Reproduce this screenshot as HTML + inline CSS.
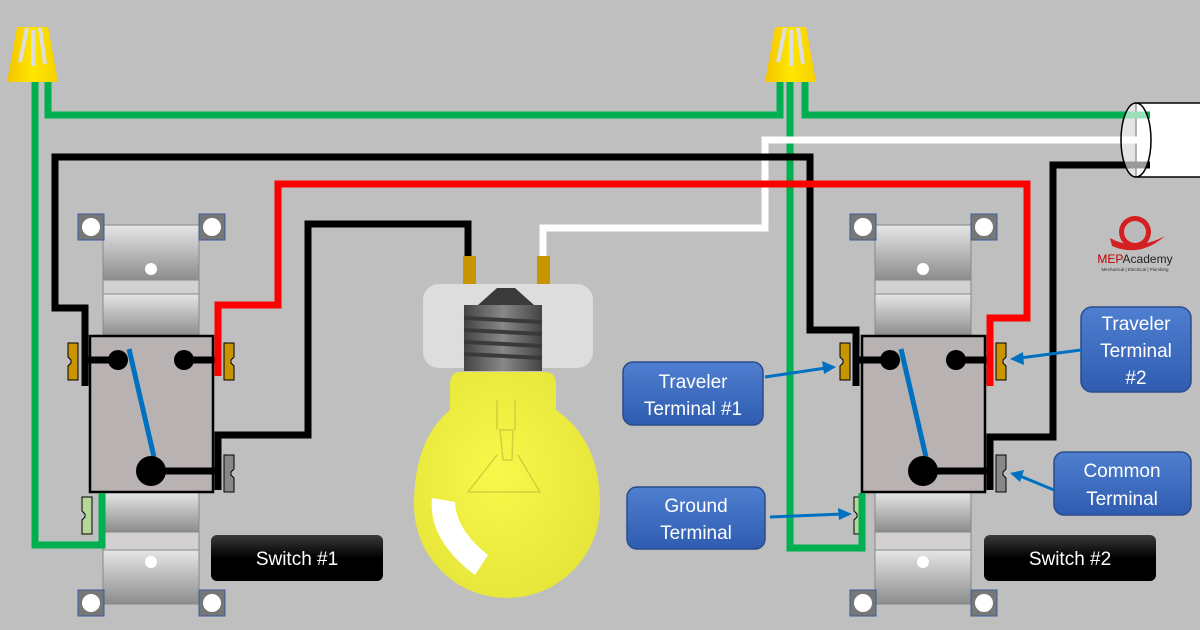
<!DOCTYPE html>
<html><head><meta charset="utf-8"><style>
html,body{margin:0;padding:0;background:#bfbfbf;}
svg{display:block}
text{font-family:"Liberation Sans",sans-serif}
</style></head><body>
<svg width="1200" height="630" viewBox="0 0 1200 630" xmlns="http://www.w3.org/2000/svg">
<defs>
<linearGradient id="strap" x1="0" y1="0" x2="0" y2="1"><stop offset="0" stop-color="#e6e6e6"/><stop offset="1" stop-color="#8c8c8c"/></linearGradient>
<linearGradient id="blk" x1="0" y1="0" x2="0" y2="1"><stop offset="0" stop-color="#3a3a3a"/><stop offset="0.5" stop-color="#000"/><stop offset="1" stop-color="#000"/></linearGradient>
<linearGradient id="blu" x1="0" y1="0" x2="0" y2="1"><stop offset="0" stop-color="#4f7fd0"/><stop offset="1" stop-color="#2f5cb0"/></linearGradient>
<linearGradient id="nut" x1="0" y1="0" x2="1" y2="0"><stop offset="0" stop-color="#f2c400"/><stop offset="0.5" stop-color="#ffe600"/><stop offset="1" stop-color="#f5d000"/></linearGradient>
<radialGradient id="bulb" cx="0.45" cy="0.45" r="0.6"><stop offset="0" stop-color="#f7f84a"/><stop offset="1" stop-color="#e6e53a"/></radialGradient>
<linearGradient id="base" x1="0" y1="0" x2="1" y2="0"><stop offset="0" stop-color="#444"/><stop offset="0.5" stop-color="#888"/><stop offset="1" stop-color="#444"/></linearGradient>
<g id="sw">
  <rect x="103" y="225" width="96" height="55" fill="url(#strap)" stroke="#888"/>
  <rect x="103" y="280" width="96" height="14" fill="#d2d0d0" stroke="#888"/>
  <rect x="103" y="294" width="96" height="42" fill="url(#strap)" stroke="#888"/>
  <rect x="103" y="492" width="96" height="40" fill="url(#strap)" stroke="#888"/>
  <rect x="103" y="532" width="96" height="18" fill="#d2d0d0" stroke="#888"/>
  <rect x="103" y="550" width="96" height="54" fill="url(#strap)" stroke="#888"/>
  <circle cx="151" cy="269" r="6" fill="#fff"/>
  <circle cx="151" cy="562" r="6" fill="#fff"/>
  <g fill="#777" stroke="#3e5a9e" stroke-width="1">
    <rect x="78" y="214" width="26" height="26"/><rect x="199" y="214" width="26" height="26"/>
    <rect x="78" y="590" width="26" height="26"/><rect x="199" y="590" width="26" height="26"/>
  </g>
  <g fill="#fff"><circle cx="91" cy="227" r="9"/><circle cx="212" cy="227" r="9"/><circle cx="91" cy="603" r="9"/><circle cx="212" cy="603" r="9"/></g>
  <rect x="90" y="336" width="123" height="156" fill="#b9b2b2" stroke="#000" stroke-width="2.5"/>
  <path d="M68 343h10v37h-10v-14l3-3v-3l-3-3z" fill="#c89400" stroke="#000"/>
  <path d="M224 343h10v14l-3 3v3l3 3v14h-10z" fill="#c89400" stroke="#000"/>
  <path d="M224 455h10v14l-3 3v3l3 3v14h-10z" fill="#888" stroke="#000"/>
  <path d="M82 497h10v37h-10v-14l3-3v-3l-3-3z" fill="#b5d89a" stroke="#000"/>
  <g stroke="#000" stroke-width="7"><line x1="86" y1="360" x2="118" y2="360"/><line x1="184" y1="360" x2="216" y2="360"/><line x1="151" y1="471" x2="216" y2="471"/></g>
  <circle cx="118" cy="360" r="10"/><circle cx="184" cy="360" r="10"/>
  <line x1="129" y1="349" x2="154" y2="457" stroke="#0070c0" stroke-width="5"/>
  <circle cx="151" cy="471" r="15"/>
</g>
</defs>
<rect width="1200" height="630" fill="#bfbfbf"/>
<use href="#sw"/>
<use href="#sw" transform="translate(772,0)"/>
<!-- cable -->
<rect x="1136" y="103" width="70" height="74" fill="#fff" stroke="#000" stroke-width="1.5"/>
<!-- wires -->
<g fill="none" stroke-linejoin="miter" stroke-width="7">
  <path d="M35 82V545H102V493" stroke="#00b050"/>
  <path d="M48 82V115H780V82" stroke="#00b050"/>
  <path d="M790 82V548H862V493" stroke="#00b050"/>
  <path d="M805 82V115H1150" stroke="#00b050"/>
  <path d="M1150 140H765V228H543V258" stroke="#fff"/>
  <path d="M85 386V308H55V157H810V330H856V386" stroke="#000"/>
  <path d="M218 376V305H278V184H1027V318H990V386" stroke="#f00"/>
  <path d="M218 490V435H308V224H468V258" stroke="#000"/>
  <path d="M1150 165H1053V437H990V490" stroke="#000"/>
</g>
<ellipse cx="1136" cy="140" rx="15" ry="37" fill="#fff" fill-opacity="0.6" stroke="#000" stroke-width="1.5"/>
<!-- wire nuts -->
<g>
  <path d="M17 27H48L58 82H7Z" fill="url(#nut)"/>
  <g stroke="#ddd" stroke-width="4"><line x1="27" y1="28" x2="20" y2="62"/><line x1="33" y1="30" x2="33" y2="66"/><line x1="40" y1="28" x2="45" y2="64"/></g>
  <path d="M775 27H806L816 82H765Z" fill="url(#nut)"/>
  <g stroke="#ddd" stroke-width="4"><line x1="785" y1="28" x2="778" y2="62"/><line x1="791" y1="30" x2="791" y2="66"/><line x1="798" y1="28" x2="803" y2="64"/></g>
</g>
<!-- bulb -->
<rect x="463" y="256" width="13" height="30" fill="#c89400"/>
<rect x="537" y="256" width="13" height="30" fill="#c89400"/>
<rect x="423" y="284" width="170" height="84" rx="16" fill="#ddd"/>
<path d="M478 305L497 288H515L534 305Z" fill="#3a3a3a"/>
<rect x="464" y="305" width="78" height="66" fill="url(#base)"/>
<g stroke="#3a3a3a" stroke-width="4"><line x1="464" y1="318" x2="542" y2="322"/><line x1="464" y1="330" x2="542" y2="334"/><line x1="464" y1="342" x2="542" y2="346"/><line x1="464" y1="354" x2="542" y2="358"/></g>
<path d="M460 372H545Q556 372 556 385V410Q600 440 600 505A93 93 0 0 1 414 505Q414 440 450 410V385Q450 372 460 372Z" fill="url(#bulb)"/>
<path d="M432 498Q428 540 475 575L488 555Q456 530 455 502Z" fill="#fff"/>
<g stroke="#c9c73a" stroke-width="1.5" fill="none" opacity="0.8"><path d="M497 400V430M515 400V430M500 430H513L512 460H503Z"/><path d="M497 455L468 492H540L518 455"/></g>
<!-- labels -->
<g>
  <rect x="211" y="535" width="172" height="46" rx="6" fill="url(#blk)"/>
  <text x="297" y="565" fill="#fff" font-size="19" text-anchor="middle">Switch #1</text>
  <rect x="984" y="535" width="172" height="46" rx="6" fill="url(#blk)"/>
  <text x="1070" y="565" fill="#fff" font-size="19" text-anchor="middle">Switch #2</text>
</g>
<g fill="url(#blu)" stroke="#2a4c8c" stroke-width="1.5">
  <rect x="623" y="362" width="140" height="63" rx="10"/>
  <rect x="627" y="487" width="138" height="62" rx="10"/>
  <rect x="1081" y="307" width="110" height="85" rx="11"/>
  <rect x="1054" y="452" width="137" height="63" rx="10"/>
</g>
<g fill="#fff" font-size="19" text-anchor="middle">
  <text x="693" y="388">Traveler</text><text x="693" y="415">Terminal #1</text>
  <text x="696" y="512">Ground</text><text x="696" y="539">Terminal</text>
  <text x="1136" y="330">Traveler</text><text x="1136" y="357">Terminal</text><text x="1136" y="384">#2</text>
  <text x="1122" y="477">Common</text><text x="1122" y="505">Terminal</text>
</g>
<g stroke="#0070c0" stroke-width="3" fill="none">
  <line x1="765" y1="377" x2="826" y2="368"/>
  <line x1="770" y1="517" x2="843" y2="514"/>
  <line x1="1081" y1="350" x2="1020" y2="358"/>
  <line x1="1054" y1="490" x2="1020" y2="476"/>
</g>
<g fill="#0070c0">
  <path d="M836 367L822 361L824 374Z"/>
  <path d="M852 514L838 508L839 520Z"/>
  <path d="M1010 359L1023 352L1024 365Z"/>
  <path d="M1010 473L1024 470L1020 482Z"/>
</g>
<!-- logo -->
<g>
  <circle cx="1135" cy="232" r="16" fill="#d42020"/>
  <circle cx="1135" cy="232" r="11" fill="#bbb"/>
  <path d="M1110 238Q1135 252 1165 236Q1140 258 1112 246Z" fill="#d42020"/>
  <text x="1135" y="263" font-family="Liberation Serif,serif" font-size="12" text-anchor="middle"><tspan fill="#c00000">MEP</tspan><tspan fill="#222">Academy</tspan></text>
  <text x="1135" y="271" font-family="Liberation Serif,serif" font-size="4.5" fill="#333" text-anchor="middle">Mechanical | Electrical | Plumbing</text>
</g>
</svg>
</body></html>
